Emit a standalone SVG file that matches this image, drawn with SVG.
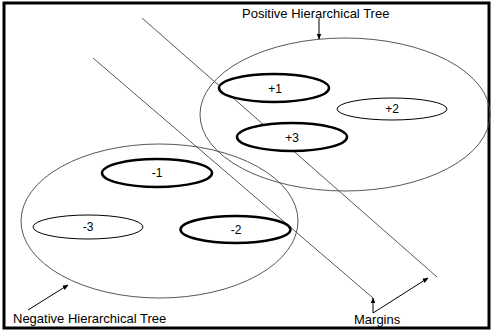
<svg xmlns="http://www.w3.org/2000/svg" width="492" height="332" viewBox="0 0 492 332">
<style>
text{font-family:"Liberation Sans",Arial,sans-serif;fill:#000}
.lbl{font-size:13px}
.in{font-size:12px;text-anchor:middle}
.big{fill:none;stroke:#444;stroke-width:0.9}
.thick{fill:#fff;stroke:#000;stroke-width:2.5}
.thin{fill:#fff;stroke:#000;stroke-width:1}
.m{stroke:#444;stroke-width:0.9}
.arr{stroke:#000;stroke-width:1;fill:none}
</style>
<defs>
<marker id="ah" viewBox="0 0 10 10" refX="9" refY="5" markerWidth="6" markerHeight="6" orient="auto" markerUnits="userSpaceOnUse">
<path d="M0,1 L10,5 L0,9 z" fill="#000"/>
</marker>
</defs>
<rect x="0" y="0" width="492" height="332" fill="#fff"/>
<rect x="4" y="3" width="485" height="325" fill="none" stroke="#000" stroke-width="3"/>
<g id="trees">
<ellipse id="pos-tree" class="big" cx="345" cy="114.5" rx="145" ry="76.5"/>
<ellipse id="neg-tree" class="big" cx="159.5" cy="221" rx="138.5" ry="77"/>
</g>
<g id="margins-lines">
<line class="m" x1="93" y1="58" x2="373" y2="298"/>
<line class="m" x1="142" y1="18" x2="437" y2="277"/>
</g>
<g id="n-p1"><ellipse class="thick" cx="274" cy="88" rx="55" ry="14"/><text class="in" x="275" y="93">+1</text></g>
<g id="n-p2"><ellipse class="thin" cx="392" cy="109" rx="55" ry="11"/><text class="in" x="392" y="113">+2</text></g>
<g id="n-p3"><ellipse class="thick" cx="292" cy="137" rx="55" ry="14"/><text class="in" x="292" y="142">+3</text></g>
<g id="n-m1"><ellipse class="thick" cx="157" cy="173" rx="55" ry="14"/><text class="in" x="157" y="177">-1</text></g>
<g id="n-m3"><ellipse class="thin" cx="88" cy="227" rx="55" ry="12"/><text class="in" x="88" y="231">-3</text></g>
<g id="n-m2"><ellipse class="thick" cx="235.5" cy="229.5" rx="55" ry="13.5"/><text class="in" x="236" y="234">-2</text></g>
<g id="connectors">
<line class="arr" x1="319" y1="18" x2="319" y2="39" marker-end="url(#ah)"/>
<line class="arr" x1="28" y1="310" x2="68" y2="285" marker-end="url(#ah)"/>
<line class="arr" x1="373" y1="313" x2="373" y2="298" marker-end="url(#ah)"/>
<line class="arr" x1="373" y1="313" x2="428" y2="278" marker-end="url(#ah)"/>
</g>
<g id="labels">
<text class="lbl" x="242" y="18">Positive Hierarchical Tree</text>
<text class="lbl" x="13" y="323">Negative Hierarchical Tree</text>
<text class="lbl" x="354" y="324">Margins</text>
</g>
</svg>
